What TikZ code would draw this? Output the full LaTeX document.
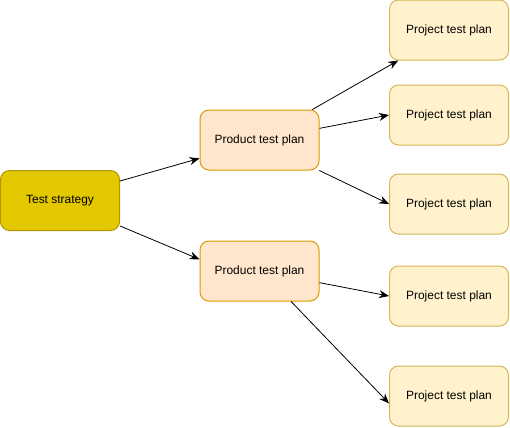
\documentclass[tikz,border=0pt]{standalone}
\usepackage{fontspec}
\setmainfont{Liberation Sans}
\usetikzlibrary{arrows.meta}
\definecolor{stratfill}{HTML}{E3C800}
\definecolor{stratline}{HTML}{B09500}
\definecolor{prodfill}{HTML}{FFE6CC}
\definecolor{prodline}{HTML}{D79B00}
\definecolor{projfill}{HTML}{FFF2CC}
\definecolor{projline}{HTML}{D6B656}
\begin{document}
\begin{tikzpicture}[x=1bp,y=-1bp,
        box/.style={rounded corners=9bp,minimum width=119bp,minimum height=60bp,inner sep=0pt,line width=1bp,font=\fontsize{12}{14}\selectfont},
        link/.style={-{Stealth[length=10bp,width=8bp]},line width=0.8bp}]
                \useasboundingbox (0,0) rectangle (510,427);
                \node[box,fill=stratfill,draw=stratline] (strat) at (60,200.5) {Test strategy};
                \node[box,fill=prodfill,draw=prodline] (prodA) at (259.5,140) {Product test plan};
                \node[box,fill=prodfill,draw=prodline] (prodB) at (259.5,271) {Product test plan};
                \node[box,fill=projfill,draw=projline] (projA) at (449,30) {Project test plan};
                \node[box,fill=projfill,draw=projline] (projB) at (449,115) {Project test plan};
                \node[box,fill=projfill,draw=projline] (projC) at (449,204) {Project test plan};
                \node[box,fill=projfill,draw=projline] (projD) at (449,296) {Project test plan};
                \node[box,fill=projfill,draw=projline] (projE) at (449,396) {Project test plan};
                \draw[link] (strat.18) -- (prodA.197);
                \draw[link] (strat.-23) -- (prodB.169);
                \draw[link] (prodA.30) -- (projA.211);
                \draw[link] (prodA.11) -- (projB.west);
                \draw[link] (prodA.-27) -- (projC.west);
                \draw[link] (prodB.-11) -- (projD.west);
                \draw[link] (prodB.-44.5) -- (projE.187);
            \end{tikzpicture}
\end{document}
